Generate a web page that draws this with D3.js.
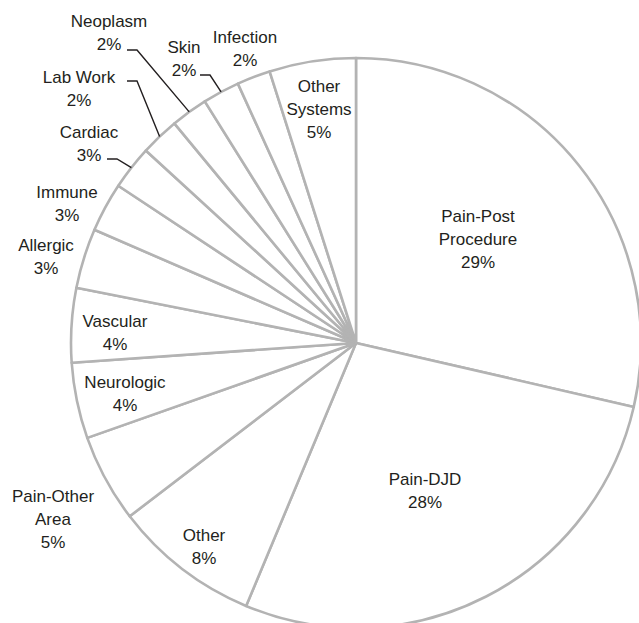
<!DOCTYPE html>
<html>
<head>
<meta charset="utf-8">
<script src="https://cdn.jsdelivr.net/npm/d3@7"></script>
<style>
	body { margin: 0; background: white; }
	svg text { font-family: Arial, "Liberation Sans", Helvetica, sans-serif; font-size: 17px; fill: #231f20; }
</style>
</head>
<body>
<div id="chart"></div>
<script>
// Slices, clockwise from 12 o'clock.
const categories = ["Pain-Post Procedure", "Pain-DJD", "Other", "Pain-Other Area", "Neurologic", "Vascular",
	"Allergic", "Immune", "Cardiac", "Lab Work", "Neoplasm", "Skin", "Infection", "Other Systems"];
const shares = [28.6, 27.7, 8.3, 5.0, 4.3, 4.2, 3.4, 2.8, 2.5, 2.2, 2.1, 2.1, 1.9, 4.9];

// Labels that break onto two lines.
const wrapped = ["Pain-Post Procedure", "Pain-Other Area", "Other Systems"];

// Where each label block sits (centre of first line), and which need a leader line.
const labelAt = {
	"Pain-Post Procedure": [478, 216],
	"Pain-DJD": [425, 479],
	"Other": [204, 535],
	"Pain-Other Area": [53, 496],
	"Neurologic": [125, 382],
	"Vascular": [115, 321],
	"Allergic": [46, 245],
	"Immune": [67, 192],
	"Cardiac": [89, 132],
	"Lab Work": [79, 77],
	"Neoplasm": [109, 21],
	"Skin": [184, 47],
	"Infection": [245, 37],
	"Other Systems": [319, 86]
};
const leaderFrom = {
	"Cardiac": [107, 159],
	"Lab Work": [127, 81],
	"Neoplasm": [127, 50],
	"Skin": [200, 75]
};

let width = 639, height = 623;
let cx = 356, cy = 343, radius = 285;
let lineStep = 23;

let svg = d3.select("#chart").append("svg")
	.attr("width", width)
	.attr("height", height);

let pie = d3.pie().sort(null).value(d=>d.value);
let data = categories.map((c,i)=>({name: c, value: shares[i]}));
let arcs = pie(data);

let arc = d3.arc().innerRadius(0).outerRadius(radius);
let rim = d3.arc().innerRadius(radius).outerRadius(radius);

let g = svg.append("g").attr("transform", `translate(${cx},${cy})`);

g.selectAll("path.slice")
  .data(arcs)
  .enter()
  .append("path")
	.attr("class", "slice")
	.attr("d", arc)
	.attr("fill", "white")
	.attr("stroke", "#b3b3b3")
	.attr("stroke-width", 2.6)
	.attr("stroke-linejoin", "round");

// Leader lines: short horizontal tick, then down to the middle of the slice's rim.
arcs.filter(a=>leaderFrom[a.data.name]).forEach(a=>{
	let [x0, y0] = leaderFrom[a.data.name];
	let [rx, ry] = rim.centroid(a);
	svg.append("path")
		.attr("d", d3.line()([[x0, y0], [x0 + 10, y0], [cx + rx, cy + ry]]))
		.attr("fill", "none")
		.attr("stroke", "#231f20")
		.attr("stroke-width", 1.4);
});

// Labels.
arcs.forEach(a=>{
	let name = a.data.name;
	let lines = wrapped.includes(name) ? name.split(" ") : [name];
	lines.push(Math.round(a.data.value) + "%");
	let [x, y] = labelAt[name];
	let t = svg.append("text")
		.attr("text-anchor", "middle")
		.attr("dominant-baseline", "central");
	lines.forEach((l,i)=>{
		t.append("tspan")
			.attr("x", x)
			.attr("y", y + i*lineStep)
			.text(l);
	});
});
</script>
</body>
</html>
